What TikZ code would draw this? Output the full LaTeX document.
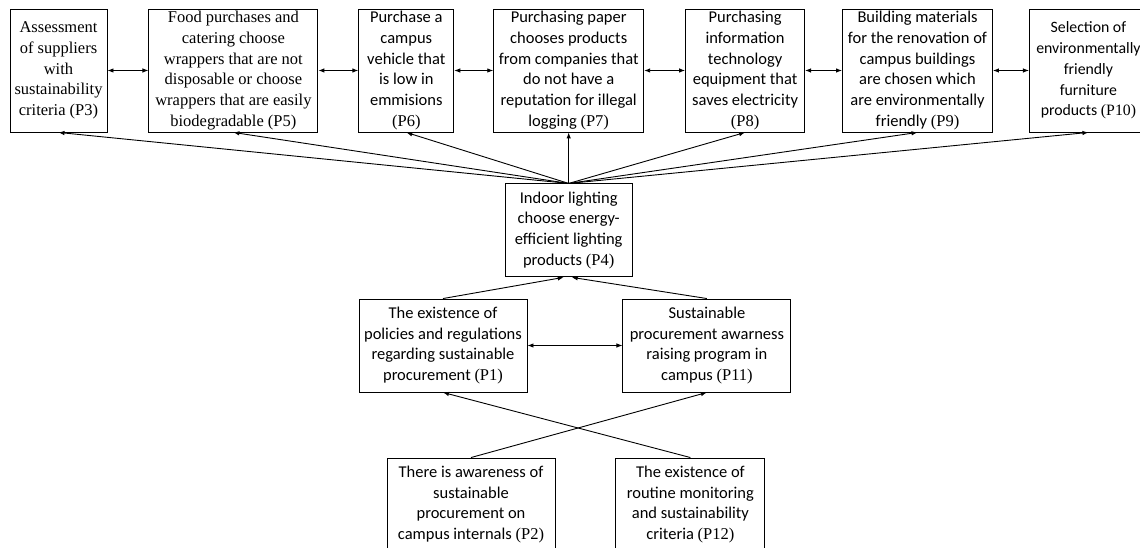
\documentclass[tikz,border=0pt]{standalone}
\usepackage{fontspec}
\setmainfont{Liberation Serif}
\setsansfont{Carlito}
\usepackage{tikz}
\usetikzlibrary{arrows.meta, positioning}
\newcommand{\pcode}[1]{{\rmfamily (P#1)}}

\begin{document}
\begin{tikzpicture}[
  x=1pt, y=1pt,
  box/.style={rectangle, draw=black, line width=0.9pt, align=center, inner sep=2pt,
              font=\sffamily\fontsize{16.5}{20.8}\selectfont},
  serifbox/.style={box, font=\rmfamily\fontsize{16.5}{20.8}\selectfont},
  topbox/.style={minimum height=123pt},
  lowbox/.style={minimum height=93pt},
  arr/.style={-{Latex[length=6pt,width=4.5pt]}, line width=0.9pt},
  dbl/.style={{Latex[length=6pt,width=4.5pt]}-{Latex[length=6pt,width=4.5pt]}, line width=0.9pt}
]
  \useasboundingbox (0,0) rectangle (1140,548);

  % top row
  \node[serifbox, topbox, minimum width=97pt] (p3) at (58.5,477.5)
    {Assessment\\of suppliers\\with\\sustainability\\criteria (P3)};
  \node[serifbox, topbox, minimum width=169pt, right=41pt of p3] (p5)
    {Food purchases and\\catering choose\\wrappers that are not\\disposable or choose\\wrappers that are easily\\biodegradable (P5)};
  \node[box, topbox, minimum width=95pt, right=40pt of p5] (p6)
    {Purchase a\\campus\\vehicle that\\is low in\\emmisions\\\pcode{6}};
  \node[box, topbox, minimum width=150pt, right=39pt of p6] (p7)
    {Purchasing paper\\chooses products\\from companies that\\do not have a\\reputation for illegal\\logging \pcode{7}};
  \node[box, topbox, minimum width=119pt, right=41pt of p7] (p8)
    {Purchasing\\information\\technology\\equipment that\\saves electricity\\\pcode{8}};
  \node[box, topbox, minimum width=150pt, right=37pt of p8] (p9)
    {Building materials\\for the renovation of\\campus buildings\\are chosen which\\are environmentally\\friendly \pcode{9}};
  \node[box, topbox, minimum width=118pt, right=36pt of p9,
        font=\sffamily\fontsize{15.8}{20.8}\selectfont] (p10)
    {Selection of\\environmentally\\friendly\\furniture\\products \pcode{10}};

  % middle
  \node[box, lowbox, minimum width=127pt, below=51pt of p7] (p4)
    {Indoor lighting\\choose energy-\\efficient lighting\\products \pcode{4}};
  \node[box, lowbox, minimum width=168pt] (p1) at (443,202.5)
    {The existence of\\policies and regulations\\regarding sustainable\\procurement \pcode{1}};
  \node[box, lowbox, minimum width=168pt, right=95pt of p1] (p11)
    {Sustainable\\procurement awarness\\raising program in\\campus \pcode{11}};

  % bottom
  \node[box, lowbox, minimum width=168pt] (p2) at (471,43.5)
    {There is awareness of\\sustainable\\procurement on\\campus internals \pcode{2}};
  \node[box, lowbox, minimum width=149pt, right=60pt of p2] (p12)
    {The existence of\\routine monitoring\\and sustainability\\criteria \pcode{12}};

  \foreach \a/\b in {p3/p5, p5/p6, p6/p7, p7/p8, p8/p9, p9/p10}
    \draw[dbl] (\a) -- (\b);
  \foreach \t in {p3, p5, p6, p7, p8, p9, p10}
    \draw[arr] (p4.north) -- (\t.south);

  \draw[arr] (p1.north) -- ([xshift=-5pt]p4.south);
  \draw[arr] (p11.north) -- ([xshift=3pt]p4.south);
  \draw[dbl] (p1) -- (p11);
  \draw[arr] (p2.north) -- (p11.south);
  \draw[arr] (p12.north) -- (p1.south);
\end{tikzpicture}
\end{document}
